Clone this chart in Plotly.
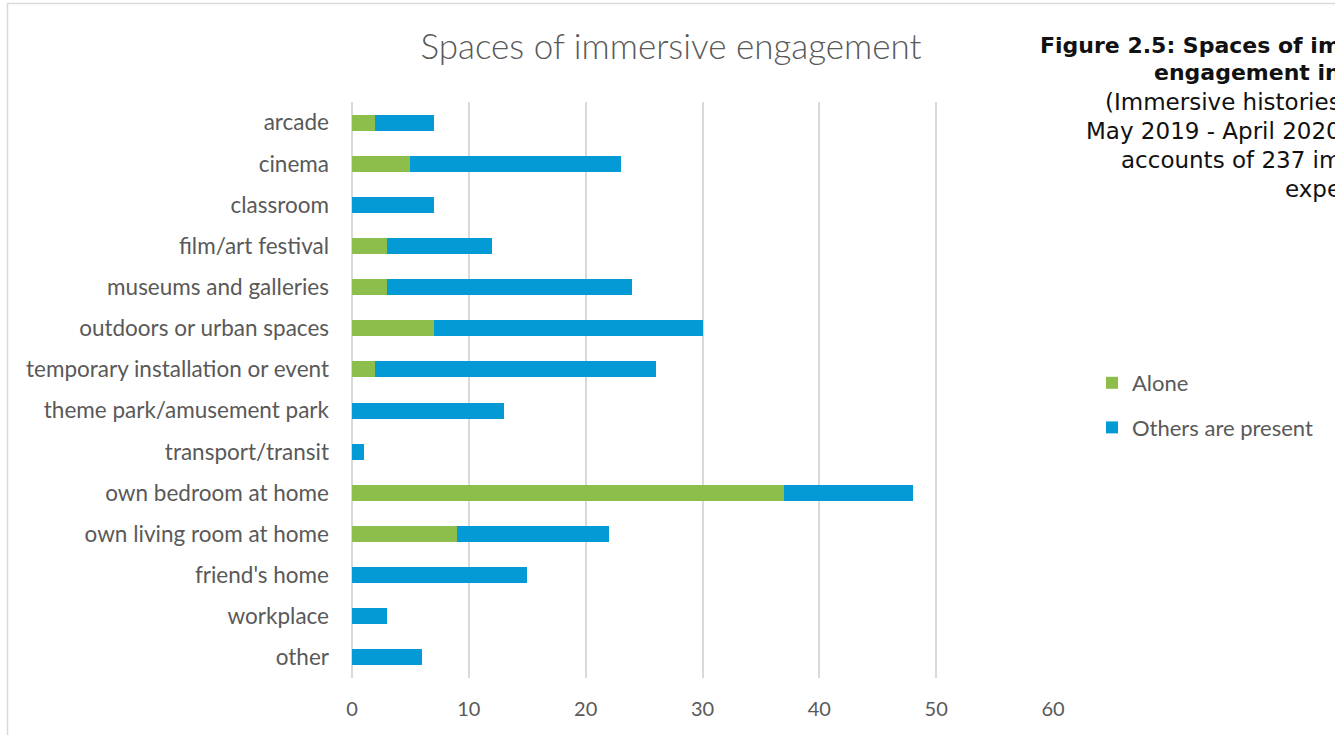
import plotly.graph_objects as go

# Spaces where immersive experiences took place (top to bottom)
spaces = [
    "arcade",
    "cinema",
    "classroom",
    "film/art festival",
    "museums and galleries",
    "outdoors or urban spaces",
    "temporary installation or event",
    "theme park/amusement park",
    "transport/transit",
    "own bedroom at home",
    "own living room at home",
    "friend's home",
    "workplace",
    "other",
]
alone = [2, 5, 0, 3, 3, 7, 2, 0, 0, 37, 9, 0, 0, 0]
others_present = [5, 18, 7, 9, 21, 23, 24, 13, 1, 11, 13, 15, 3, 6]
x_ticks = [0, 10, 20, 30, 40, 50, 60]

# Caption lines of the surrounding figure text
caption_lines = [
    ("<b>Figure 2.5: Spaces of im</b>", 46, 22),
    ("<b>engagement in</b>", 73, 22),
    ("(Immersive histories", 102, 23),
    ("May 2019 - April 2020", 131, 23),
    ("accounts of 237 im", 160, 23),
    ("expe", 189, 23),
]

W, H = 1335, 735
L, R, T, B = 352, 282, 102, 57
PW, PH = W - L - R, H - T - B

GREEN = "#8DBE4B"
BLUE = "#039AD6"
GRID = "#D9D9D9"
TEXT = "#595959"
FONT = "Lato"

fig = go.Figure()
fig.add_trace(go.Bar(
    y=spaces, x=alone, name="Alone", orientation="h",
    marker=dict(color=GREEN, line=dict(width=0)),
    legendgroup="a",
))
fig.add_trace(go.Bar(
    y=spaces, x=others_present, name="Others are present", orientation="h",
    marker=dict(color=BLUE, line=dict(width=0)),
    legendgroup="b",
))


def px_x(px):
    return (px - L) / PW


def px_y(py):
    return (H - B - py) / PH


annotations = []
for text, ypix, size in caption_lines:
    annotations.append(dict(
        text=text, xref="paper", yref="paper",
        x=px_x(1343), y=px_y(ypix), xanchor="right", yanchor="middle",
        showarrow=False, align="right",
        font=dict(family="DejaVu Sans", size=size, color="#111111"),
    ))

fig.update_layout(
    width=W, height=H,
    margin=dict(l=L, r=R, t=T, b=B, pad=0),
    paper_bgcolor="white", plot_bgcolor="white",
    barmode="stack", bargap=0.61,
    title=dict(
        text="Spaces of immersive engagement",
        x=671 / W, xref="container", xanchor="center",
        y=1 - 47 / H, yref="container", yanchor="middle",
        font=dict(family=FONT, size=35, color=TEXT, weight=300),
    ),
    xaxis=dict(
        range=[0, 60], tickvals=x_ticks, showgrid=True, gridcolor=GRID, gridwidth=1.5,
        zeroline=True, zerolinecolor=GRID, zerolinewidth=1.5,
        showline=False, ticks="", ticklabelstandoff=17,
        tickfont=dict(family=FONT, size=20, color=TEXT),
        fixedrange=True,
    ),
    yaxis=dict(
        autorange="reversed", showgrid=False, zeroline=False, showline=False,
        ticks="", ticklabelstandoff=22,
        tickfont=dict(family=FONT, size=22.5, color=TEXT),
        fixedrange=True,
    ),
    showlegend=True,
    legend=dict(
        x=px_x(1092), y=px_y(362), xanchor="left", yanchor="top",
        traceorder="grouped", tracegroupgap=13,
        font=dict(family=FONT, size=22, color=TEXT),
        bgcolor="rgba(0,0,0,0)", itemwidth=30,
    ),
    annotations=annotations,
    shapes=[dict(
        type="rect", xref="paper", yref="paper",
        x0=px_x(7.5), x1=px_x(1400), y0=px_y(800), y1=px_y(3.5),
        line=dict(color=GRID, width=1.5), layer="below",
    )],
)

fig.write_html("out.html")
